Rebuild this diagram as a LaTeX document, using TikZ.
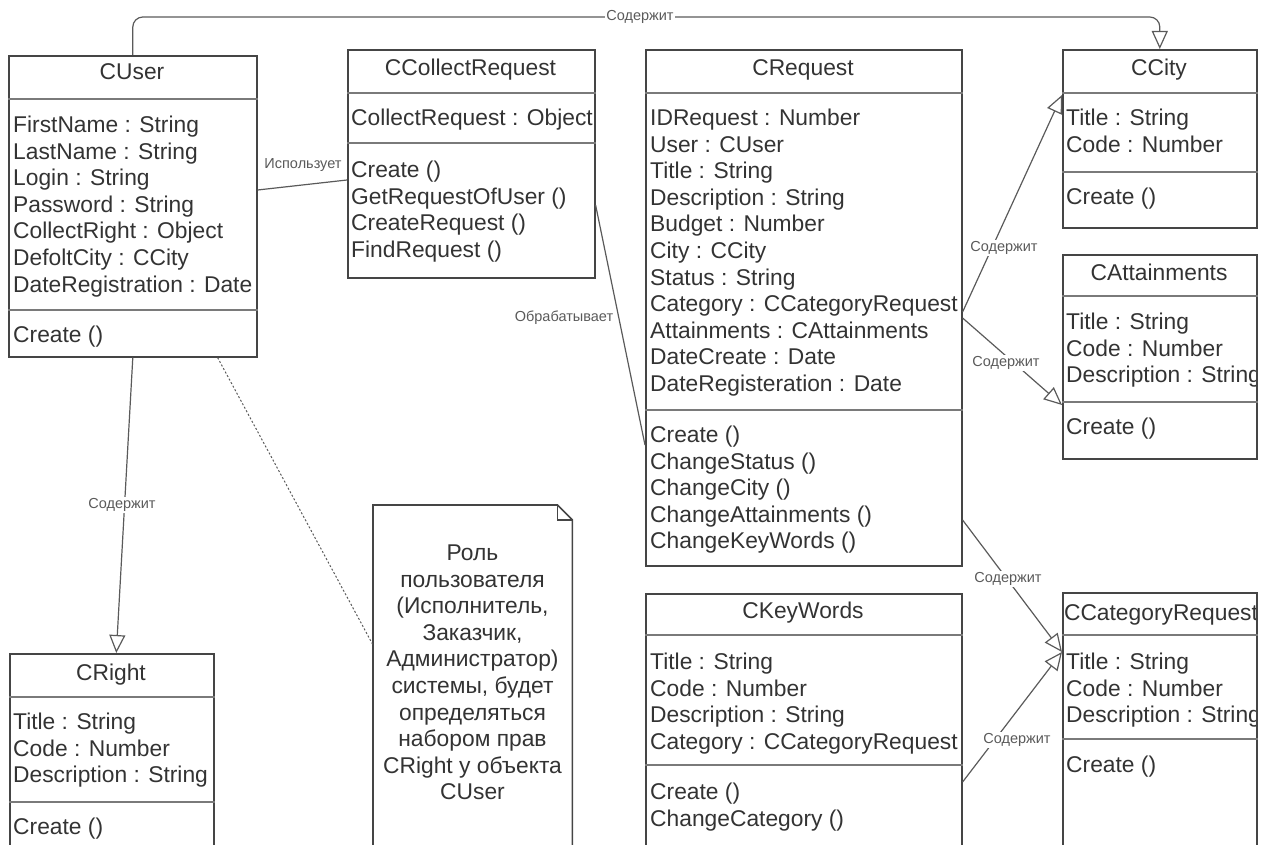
\documentclass[tikz,border=0pt]{standalone}
\usepackage{fontspec}
\setmainfont{Liberation Sans}
\usetikzlibrary{arrows.meta}

\definecolor{boxline}{HTML}{454545}
\definecolor{divline}{HTML}{7A7A7A}
\definecolor{txt}{HTML}{333333}
\definecolor{conn}{HTML}{5A5A5A}
\definecolor{lbl}{HTML}{5A5A5A}

\tikzset{
  classbox/.style={draw=boxline, line width=1.6pt, anchor=north west, inner sep=0pt},
  divider/.style={draw=divline, line width=1.2pt},
  member/.style={anchor=base west, inner sep=0pt, text=txt, font=\fontsize{22.8}{26.6}\selectfont},
  ctitle/.style={anchor=base, inner sep=0pt, text=txt, font=\fontsize{22.8}{26.6}\selectfont},
  noteline/.style={anchor=base, inner sep=0pt, text=txt, font=\fontsize{22.8}{26.6}\selectfont},
  assoc/.style={draw=conn, line width=1.2pt},
  contains/.style={assoc, -{Triangle[open, length=18pt, width=16pt]}},
  notelink/.style={draw=conn, line width=1pt, dash pattern=on 2pt off 2pt},
  elabel/.style={fill=white, inner sep=1pt, text=lbl, font=\fontsize{14.5}{17}\selectfont},
}

% rows of a compartment: name prefix, x, first baseline, list of rows
\newcommand{\memberrows}[4]{%
  \foreach \t [count=\i from 0] in {#4}{\node[member] (#1-\i) at (#2,{#3+26.6*\i}) {\t};}}
\newcommand{\noterows}[4]{%
  \foreach \t [count=\i from 0] in {#4}{\node[noteline] (#1-\i) at (#2,{#3+26.6*\i}) {\t};}}
% horizontal compartment divider at a given depth below the top of a class
\newcommand{\compline}[2]{%
  \draw[divider] ([yshift=-#2pt]#1.north west) -- ([yshift=-#2pt]#1.north east);}

\begin{document}
\begin{tikzpicture}[x=1pt, y=-1pt]
\useasboundingbox (0,0) rectangle (1270,845);
\clip (0,0) rectangle (1270,845);

% ---------- classes ----------
% CUser
\node[classbox, minimum width=248pt, minimum height=301pt] (cuser) at (8,55) {};
\node[ctitle] (cuser-title) at (132,80) {CUser};
\compline{cuser}{44}
\compline{cuser}{255}
\memberrows{cuser-a}{13}{132.5}{FirstName : String, LastName : String, Login : String, Password : String, CollectRight : Object, DefoltCity : CCity, DateRegistration : Date}
\memberrows{cuser-m}{13}{342.5}{Create ()}

% CCollectRequest
\node[classbox, minimum width=247pt, minimum height=228pt] (ccoll) at (347,49) {};
\node[ctitle] (ccoll-title) at (470.5,76) {CCollectRequest};
\compline{ccoll}{44}
\compline{ccoll}{94}
\memberrows{ccoll-a}{351}{125.5}{CollectRequest : Object}
\memberrows{ccoll-m}{351}{177.5}{Create (), GetRequestOfUser (), CreateRequest (), FindRequest ()}

% CRequest
\node[classbox, minimum width=316pt, minimum height=516pt] (creq) at (645,49) {};
\node[ctitle] (creq-title) at (803,76) {CRequest};
\compline{creq}{44}
\compline{creq}{361}
\memberrows{creq-a}{650}{125.5}{IDRequest : Number, User : CUser, Title : String, Description : String, Budget : Number, City : CCity, Status : String, Category : CCategoryRequest, Attainments : CAttainments, DateCreate : Date, DateRegisteration : Date}
\memberrows{creq-m}{650}{442.5}{Create (), ChangeStatus (), ChangeCity (), ChangeAttainments (), ChangeKeyWords ()}

% CCity
\node[classbox, minimum width=194pt, minimum height=178pt] (ccity) at (1062,49) {};
\node[ctitle] (ccity-title) at (1159,76) {CCity};
\compline{ccity}{44}
\compline{ccity}{123}
\memberrows{ccity-a}{1066}{125.5}{Title : String, Code : Number}
\memberrows{ccity-m}{1066}{204.5}{Create ()}

% CAttainments (long rows are cut at the right border)
\node[classbox, minimum width=194pt, minimum height=204pt] (catt) at (1062,254) {};
\node[ctitle] (catt-title) at (1159,280) {CAttainments};
\compline{catt}{42}
\compline{catt}{148}
\begin{scope}
  \clip (1062,254) rectangle (1255,458);
  \memberrows{catt-a}{1066}{329.5}{Title : String, Code : Number, Description : String}
  \memberrows{catt-m}{1066}{434.5}{Create ()}
\end{scope}

% CKeyWords
\node[classbox, minimum width=316pt, minimum height=280pt] (ckw) at (645,593) {};
\node[ctitle] (ckw-title) at (803,618) {CKeyWords};
\compline{ckw}{42}
\compline{ckw}{172}
\memberrows{ckw-a}{650}{669.5}{Title : String, Code : Number, Description : String, Category : CCategoryRequest}
\memberrows{ckw-m}{650}{799.5}{Create (), ChangeCategory ()}

% CCategoryRequest (long rows are cut at the right border)
\node[classbox, minimum width=194pt, minimum height=280pt] (ccat) at (1062,592) {};
\compline{ccat}{43}
\compline{ccat}{147}
\begin{scope}
  \clip (1062,592) rectangle (1255,872);
  \node[ctitle] (ccat-title) at (1161,620) {CCategoryRequest};
  \memberrows{ccat-a}{1066}{669.5}{Title : String, Code : Number, Description : String}
  \memberrows{ccat-m}{1066}{772.5}{Create ()}
\end{scope}

% CRight
\node[classbox, minimum width=204pt, minimum height=220pt] (cright) at (9,653) {};
\node[ctitle] (cright-title) at (111,680) {CRight};
\compline{cright}{44}
\compline{cright}{149}
\memberrows{cright-a}{13}{729.5}{Title : String, Code : Number, Description : String}
\memberrows{cright-m}{13}{834.5}{Create ()}

% ---------- note ----------
\node[anchor=north west, inner sep=0pt, minimum width=199pt, minimum height=370pt] (note) at (373,505) {};
\draw[boxline, line width=1.6pt]
  (note.north west) -- ([xshift=-15pt]note.north east) -- ([yshift=-15pt]note.north east)
  -- (note.south east) -- (note.south west) -- cycle;
\draw[boxline, line width=1.2pt]
  ([xshift=-15pt]note.north east) -- ([xshift=-15pt,yshift=-15pt]note.north east)
  -- ([yshift=-15pt]note.north east);
\noterows{note-t}{472.5}{560.5}{Роль, пользователя, {(Исполнитель,}, {Заказчик,}, Администратор), {системы, будет}, определяться, набором прав, CRight у объекта, CUser}

% ---------- connectors ----------
\draw[contains, rounded corners=10pt] (cuser.north) -- ++(0,-38) -| (ccity.north);
\node[elabel] (lab-city-top) at (640,17) {Содержит};

\draw[assoc] ([yshift=-135pt]cuser.north east) -- ([yshift=-131pt]ccoll.north west);
\node[elabel] (lab-uses) at (303,165) {Использует};

\draw[assoc] ([yshift=-156pt]ccoll.north east) -- ([yshift=-396pt]creq.north west);
\node[elabel] (lab-handles) at (564,318) {Обрабатывает};

\draw[contains] ([yshift=-263pt]creq.north east) -- ([yshift=-46pt]ccity.north west);
\node[elabel] (lab-city) at (1004,248) {Содержит};

\draw[contains] ([yshift=-269pt]creq.north east) -- ([yshift=-151pt]catt.north west);
\node[elabel] (lab-att) at (1006,363) {Содержит};

\draw[contains] ([yshift=-471pt]creq.north east) -- ([yshift=-60pt]ccat.north west);
\node[elabel] (lab-cat1) at (1008,579) {Содержит};

\draw[contains] ([yshift=-189pt]ckw.north east) -- ([yshift=-60pt]ccat.north west);
\node[elabel] (lab-cat2) at (1017,740) {Содержит};

\draw[contains] (cuser.south) -- ([xshift=4.5pt]cright.north);
\node[elabel] (lab-right) at (122,505) {Содержит};

\draw[notelink] ([xshift=-40pt]cuser.south east) -- ([yshift=-140pt]note.north west);

\end{tikzpicture}
\end{document}
